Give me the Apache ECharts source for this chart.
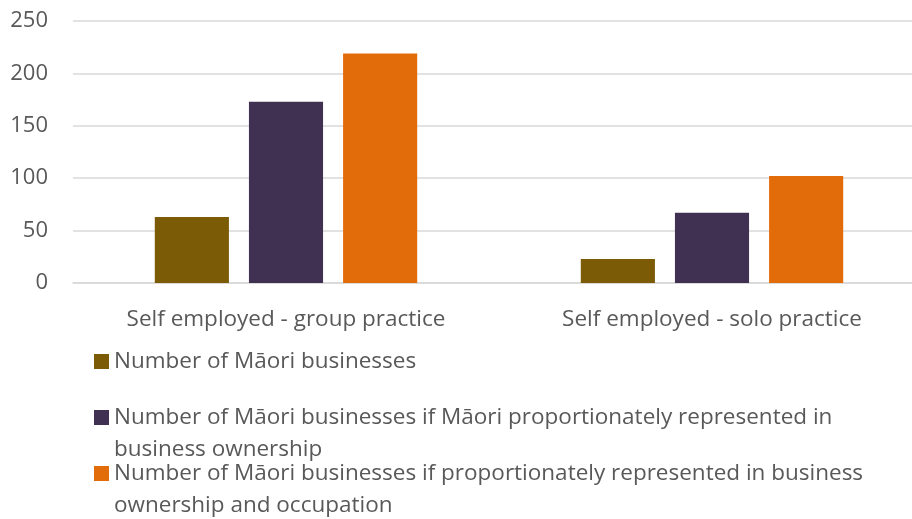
<!DOCTYPE html>
<html>
<head>
<meta charset="utf-8">
<script src="https://cdn.jsdelivr.net/npm/echarts@6/dist/echarts.min.js"></script>
<style>
  html, body { margin: 0; padding: 0; background: #ffffff; overflow: hidden; }
  #chart { width: 925px; height: 519px; }
</style>
</head>
<body>
<div id="chart"></div>
<script>
// Practice types shown on the category axis
const categories = ['Self employed - group practice', 'Self employed - solo practice'];

// Series names and their wrapped legend labels
const seriesNames = [
  'Number of Māori businesses',
  'Number of Māori businesses if Māori proportionately represented in business ownership',
  'Number of Māori businesses if proportionately represented in business ownership and occupation'
];
const legendLabels = [
  'Number of Māori businesses',
  'Number of Māori businesses if Māori proportionately represented in\nbusiness ownership',
  'Number of Māori businesses if proportionately represented in business\nownership and occupation'
];

// Values per series, one entry per category
const actualBusinesses = [63, 23];
const ownershipParity = [173, 67];
const ownershipOccupationParity = [219, 102];

// Value axis ticks
const yTicks = [0, 50, 100, 150, 200, 250];

const colors = ['#7B5B06', '#403152', '#E36C0A'];
const textColor = '#595959';
const fontFamily = '"Open Sans", "Noto Sans", sans-serif';
const lineHeight = 32;

const seriesData = [actualBusinesses, ownershipParity, ownershipOccupationParity];

// Square marker pinned to the first text line: the tiny speck at the bottom
// stretches the symbol box to two lines so the text stays centred on both.
const twoLineIcon = 'path://M0,0h15v15h-15Z M0,46.98h0.02v0.02h-0.02Z';

function legendFor(i, top, multiLine) {
  return {
    show: true,
    data: [{ name: seriesNames[i], icon: multiLine ? twoLineIcon : 'rect' }],
    left: 94,
    top: top,
    orient: 'vertical',
    padding: 0,
    itemWidth: 15,
    itemHeight: multiLine ? 15 + lineHeight : 15,
    symbolKeepAspect: false,
    selectedMode: false,
    formatter: function () { return legendLabels[i]; },
    textStyle: {
      color: textColor,
      fontSize: 22.5,
      fontFamily: fontFamily,
      lineHeight: lineHeight
    }
  };
}

const chart = echarts.init(document.getElementById('chart'), null, { renderer: 'canvas' });
chart.setOption({
  animation: false,
  backgroundColor: '#ffffff',
  grid: { left: 73, right: 0, top: 21, bottom: 236, containLabel: false },
  legend: [
    legendFor(0, 345.5, false),
    legendFor(1, 401.5, true),
    legendFor(2, 457.5, true)
  ],
  xAxis: {
    type: 'category',
    data: categories,
    axisLine: { show: true, lineStyle: { color: '#d9d9d9', width: 1.5 } },
    axisTick: { show: false },
    axisLabel: { color: textColor, fontSize: 22.5, fontFamily: fontFamily, margin: 25 }
  },
  yAxis: {
    type: 'value',
    min: yTicks[0],
    max: yTicks[yTicks.length - 1],
    interval: yTicks[1] - yTicks[0],
    axisLine: { show: false },
    axisTick: { show: false },
    axisLabel: { color: textColor, fontSize: 22, fontFamily: fontFamily, margin: 25 },
    splitLine: { lineStyle: { color: '#d9d9d9', width: 1.5 } }
  },
  series: seriesNames.map(function (name, i) {
    return {
      name: name,
      type: 'bar',
      data: seriesData[i],
      barWidth: '17.4%',
      barGap: '27%',
      itemStyle: { color: colors[i] }
    };
  })
});
</script>
</body>
</html>
